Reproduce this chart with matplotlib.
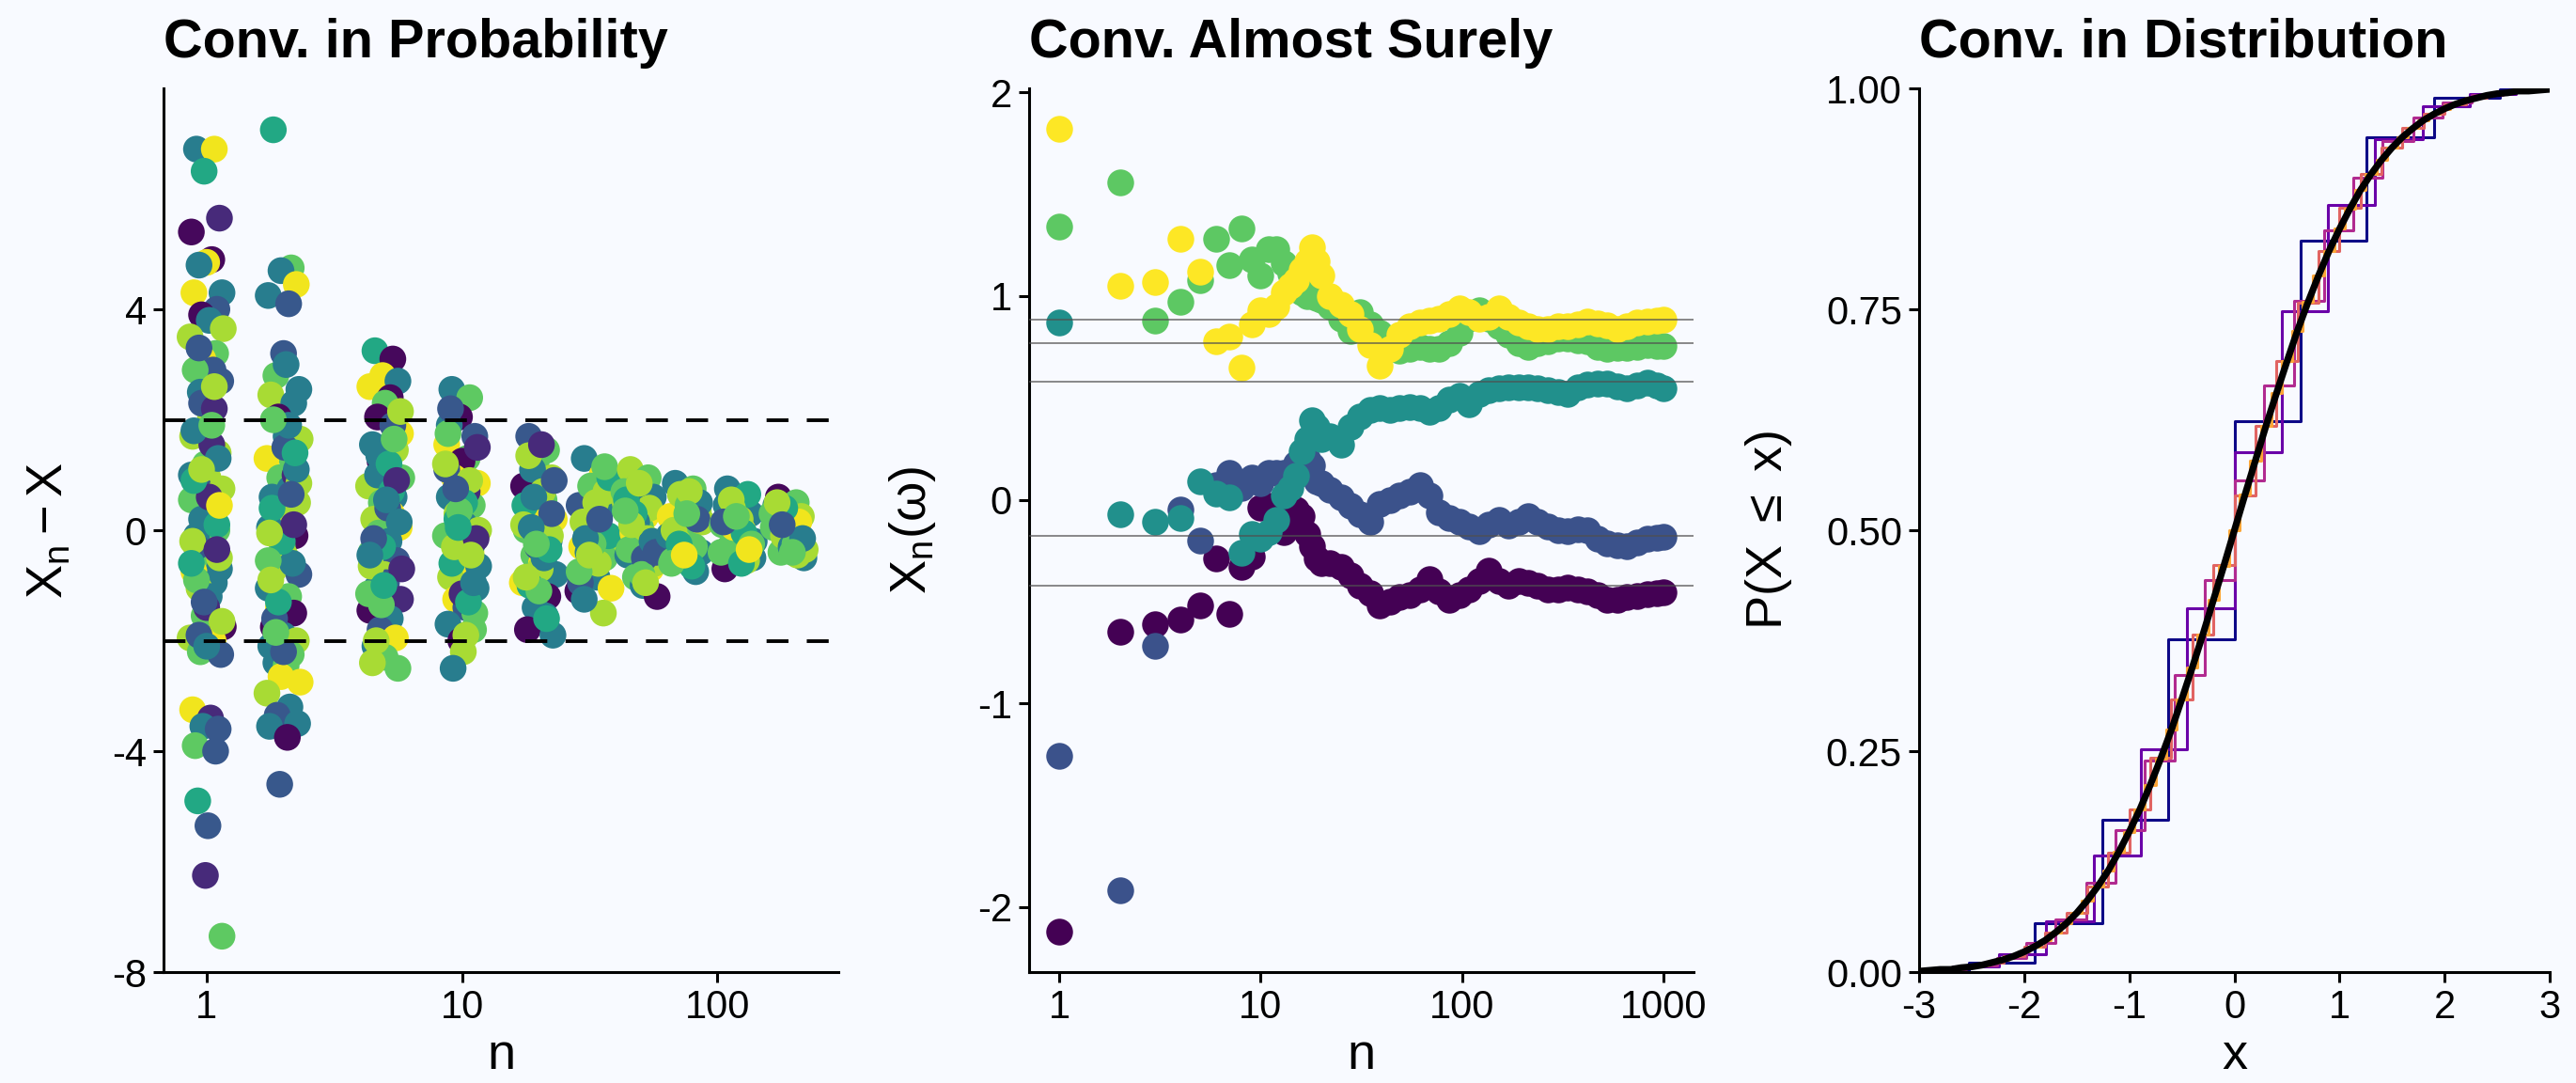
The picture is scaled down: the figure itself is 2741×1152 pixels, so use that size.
import matplotlib
matplotlib.use('Agg')
import matplotlib.pyplot as plt
from matplotlib.ticker import NullLocator

BG = '#f8faff'

# ---- panel 1: convergence in probability, X_n - X at a few n (jittered)
P1_N = [1, 2, 5, 10, 20, 33, 50, 75, 120, 190]
Y_N1 = [6.9, 6.9, 6.5, 5.65, 5.4, 4.9, 4.85, 4.8, 4.3, 4.3, 4.0, 3.9, 3.8, 3.65, 3.5,
        3.2, 3.1, 2.9, 2.9, 2.7, 2.5, 2.05, 1.7, 1.4, 1.2, 0.95, 0.8, 0.75, 0.55, 0.35,
        0.2, 0.0, -0.1, -0.45, -0.7, -0.75, -0.95, -1.05, -1.2, -1.55, -1.75, -1.95, -2.0,
        -2.2, -2.25, -3.25, -3.4, -3.55, -3.6, -3.9, -4.0, -4.9, -5.35, -6.25, -7.35,
        1.0, 1.55, 2.3, 0.1, -0.3, -1.4, -0.5, 1.8, 2.2, -1.9,
        0.6, -0.2, 1.3, -0.9, 2.6, -1.3, 0.45, -0.6, 1.9, -2.1, 3.3, -1.65, 0.9, -0.35, 1.1]
C_N1 = ("TYEQP PYTTY BPTLL GYBGB TLLLG LBLGP TGTGT YTLTG PLYGB YQTBG BEBQG TQBEB QLTQB"
        " QLTGL BYEGT BLEQL")
Y_N2 = [7.25, 4.75, 4.7, 4.45, 4.25, 4.1, 3.2, 2.8, 2.55, 2.45, 2.3, 2.05, 1.7, 1.65, 1.3,
        1.25, 0.95, 0.75, 0.6, 0.5, 0.3, 0.2, 0.05, -0.1, -0.3, -0.45, -0.7, -0.8, -1.05,
        -1.2, -1.4, -1.5, -1.75, -1.9, -2.0, -2.1, -2.25, -2.4, -2.45, -2.65, -2.75, -2.95,
        -3.2, -3.35, -3.5, -3.55, -3.75, -4.6, 1.0, 0.4, -0.6, -1.6, 1.5, -0.2,
        0.85, -0.55, 1.9, -1.3, 0.1, 2.0, -2.2, 1.1, -0.9, 0.65, -1.85, 3.0, -0.05, 1.4]
C_N2 = "EGTYT BBGTL TPTLY GGTTL BLTPG LLBTG YPPTL TGTGY YLTBT TPBQE TBBE LGTEQ GBTLB GTLE"
Y_N5 = [3.25, 3.1, 2.8, 2.7, 2.6, 2.4, 2.3, 2.05, 1.75, 1.55, 1.45, 1.25, 1.1, 0.95, 0.8,
        0.6, 0.5, 0.3, 0.2, 0.05, -0.05, -0.2, -0.4, -0.55, -0.8, -0.95, -1.05, -1.25,
        -1.45, -1.6, -1.8, -1.95, -2.1, -2.3, -2.5, -2.4, 1.9, 1.0, 0.4, -0.3, -0.7,
        -1.15, 0.7, 1.35,
        0.15, -0.65, 1.2, -1.35, 0.9, -0.15, 1.65, -2.0, 0.55, -1.0, 2.15, -0.45]
C_N5 = "EPYTY PGPYT LPGGL TGYLY GTGBL BTQPT BYTGG LBTBE QGET TLEGQ BGLTE LT"
Y_N10 = [2.55, 2.4, 2.05, 1.7, 1.55, 1.3, 1.25, 0.95, 0.85, 0.6, 0.45, 0.3, 0.1, 0.0, -0.1,
         -0.4, -0.5, -0.75, -0.85, -1.05, -1.25, -1.4, -1.7, -1.8, -2.0, -2.2, -2.5, 1.5,
         1.1, 0.7, 0.2, -0.25, -0.6, -1.15, -1.5, 1.9, 0.9, -0.3, 0.5,
         0.35, -0.65, 1.2, -1.3, 0.75, -0.15, 1.75, -1.9, 0.05, -0.95, 2.2, -0.45]
C_N10 = "TGPBY GPYYT GLTLG YBYLT YBTGP LTQBQ ETEQG TLLE GTLEB QGLET BL"
Y_N20 = [1.7, 1.45, 1.25, 0.95, 0.8, 0.55, 0.35, 0.25, 0.2, 0.0, -0.2, -0.45, -0.6, -0.8,
         -0.95, -1.2, -1.4, -1.55, -1.8, -1.9, 1.1, 0.7, 0.45, -0.1, -0.3, -0.7, -1.0, 0.9,
         0.1, -0.5,
         0.6, -0.35, 1.35, -1.1, 0.3, -0.85, -1.6, 0.05, 1.55, -0.25]
C_N20 = "BGGLP GTYYG TGYTY PTTPT TLELB LEBLT TELGB LETQG"
Y_N33 = [1.3, 1.0, 0.6, 0.55, 0.45, 0.25, 0.05, -0.05, -0.2, -0.3, -0.5, -0.7, -0.85, -1.05,
         -1.1, -1.5, 0.8, 0.35, 0.15, -0.1, -0.4, -0.6, -0.95, 0.7, -0.25,
         0.5, -0.15, 0.95, -0.75, 0.2, -0.45, 1.15, -1.25]
C_N33 = "TYYGB LGTLY GLTYP LGTLE TLBLG LTEGB LGT"
Y_N50 = [1.1, 0.95, 0.8, 0.6, 0.5, 0.25, 0.05, -0.05, -0.25, -0.45, -0.7, -0.85, -1.0, -1.2,
         0.7, 0.4, 0.15, -0.15, -0.35, -0.6, 0.3, -0.5,
         0.55, -0.2, 0.85, -0.8, 0.1, -0.4, 0.35, -0.95]
C_N50 = "LGBTL YGYGT YGTPG LTLGL EB ETLGL BGL"
Y_N75 = [0.85, 0.75, 0.55, 0.35, 0.25, 0.05, -0.05, -0.2, -0.4, -0.55, -0.75, 0.65, 0.45,
         0.15, -0.1, -0.3, -0.5, -0.65, 0.0,
         0.5, -0.25, 0.7, -0.6, 0.2, -0.45, 0.3]
C_N75 = "TGTLY YGLTG TLGLT GLEL TELGB YG"
Y_N120 = [0.75, 0.6, 0.5, 0.3, 0.1, 0.0, -0.1, -0.3, -0.5, -0.7, 0.65, 0.4, 0.2, -0.2, -0.4,
          -0.55, 0.05, -0.05,
          0.45, -0.25, 0.55, -0.6, 0.15, -0.35, 0.25]
C_N120 = "TGLTG YLGTP ELLTG LYE TGLEB YG"
Y_N190 = [0.6, 0.5, 0.35, 0.25, 0.05, -0.05, -0.2, -0.4, -0.5, 0.45, 0.15, -0.1, -0.3,
          -0.35, 0.3, -0.45,
          0.4, -0.25, 0.5, -0.15, 0.1, -0.4]
C_N190 = "PGLLG YLGTT YLTLGL EGLTBG"

# horizontal spread of each column (log10 units)
JITTER = [-0.04, 0.03, -0.01, 0.05, -0.06, 0.02, 0.00, -0.03, 0.06, -0.05, 0.04, -0.02,
          0.01, 0.065, -0.065, 0.035, -0.015, 0.025, -0.045, 0.055, -0.025, 0.015, -0.055,
          0.045, -0.005, 0.005, -0.035, 0.06, -0.06, 0.02, -0.02, 0.04, -0.04, 0.0, 0.05,
          -0.05, 0.03, -0.03, 0.01, -0.01, 0.065, -0.065, 0.025, -0.025, 0.055, -0.055,
          0.015, -0.015, 0.045, -0.045, 0.035, -0.035, 0.005, -0.005, 0.06, -0.06, 0.02,
          -0.02, 0.04, -0.04, 0.0, 0.05, -0.05, 0.03, -0.03, 0.01, -0.055, 0.045]
# viridis shade per letter
SHADE = {'P': 0.02, 'Q': 0.12, 'B': 0.27, 'T': 0.42, 'E': 0.6, 'G': 0.75, 'L': 0.87, 'Y': 0.98}

# ---- panel 2: almost sure convergence, running paths
N_GRID = [1, 2, 3, 4, 5, 6, 7, 8, 9, 10, 11, 12, 13, 14, 15, 16, 17, 18, 19, 20,
          22, 25, 28, 31, 35, 39, 44, 49, 55, 62, 69, 77, 86, 97, 108, 121, 136, 152, 170,
          190, 213, 238, 267, 299, 335, 375, 420, 470, 527, 590, 660, 740, 830, 930, 1000]
PATH_PURPLE = [-2.12, -0.65, -0.61, -0.59, -0.52, -0.29, -0.56, -0.33, -0.28, -0.04, -0.03,
               -0.10, -0.16, -0.07, -0.05, -0.08, -0.17, -0.23, -0.29, -0.31,
               -0.31, -0.33, -0.37, -0.42, -0.46, -0.52, -0.50, -0.48, -0.47, -0.44,
               -0.39, -0.45, -0.49, -0.47, -0.44, -0.40, -0.35, -0.40, -0.42, -0.40,
               -0.41, -0.42, -0.44, -0.44, -0.43, -0.44, -0.45, -0.47, -0.49, -0.49,
               -0.48, -0.475, -0.465, -0.46, -0.455]
PATH_BLUE = [-1.26, -1.92, -0.72, -0.05, -0.20, 0.07, 0.13, 0.06, 0.11, 0.08, 0.13, 0.13,
             0.13, 0.10, 0.18, 0.21, 0.20, 0.17, 0.09, 0.08,
             0.05, 0.01, -0.03, -0.07, -0.11, -0.02, 0.00, 0.02, 0.04, 0.07,
             0.02, -0.06, -0.09, -0.11, -0.13, -0.155, -0.12, -0.10, -0.125, -0.11,
             -0.08, -0.11, -0.13, -0.15, -0.155, -0.145, -0.15, -0.19, -0.215, -0.225,
             -0.23, -0.21, -0.19, -0.185, -0.18]
PATH_TEAL = [0.87, -0.07, -0.11, -0.09, 0.09, 0.03, 0.01, -0.26, -0.17, -0.19, -0.16, -0.10,
             0.02, 0.06, 0.12, 0.24, 0.30, 0.39, 0.36, 0.30,
             0.31, 0.27, 0.36, 0.41, 0.44, 0.45, 0.44, 0.45, 0.455, 0.45,
             0.43, 0.45, 0.49, 0.51, 0.47, 0.52, 0.54, 0.545, 0.55, 0.55,
             0.55, 0.545, 0.54, 0.53, 0.52, 0.55, 0.565, 0.57, 0.57, 0.555,
             0.545, 0.56, 0.575, 0.56, 0.545]
PATH_GREEN = [1.34, 1.56, 0.88, 0.97, 1.08, 1.28, 1.15, 1.33, 1.18, 1.10, 1.23, 1.23, 1.16,
              1.11, 1.07, 1.02, 1.00, 1.01, 0.99, 0.98,
              0.95, 0.89, 0.83, 0.92, 0.86, 0.82, 0.77, 0.73, 0.74, 0.75,
              0.74, 0.74, 0.77, 0.82, 0.89, 0.93, 0.89, 0.85, 0.81, 0.77,
              0.75, 0.77, 0.78, 0.79, 0.79, 0.785, 0.78, 0.75, 0.74, 0.745,
              0.745, 0.75, 0.76, 0.755, 0.754]
PATH_YELLOW = [1.82, 1.05, 1.07, 1.28, 1.12, 0.78, 0.80, 0.65, 0.86, 0.93, 0.91, 0.95, 1.02,
               1.05, 1.08, 1.13, 1.17, 1.24, 1.17, 1.10,
               1.00, 0.96, 0.91, 0.84, 0.76, 0.66, 0.74, 0.81, 0.85, 0.87,
               0.88, 0.89, 0.91, 0.94, 0.92, 0.89, 0.90, 0.94, 0.90, 0.87,
               0.85, 0.84, 0.84, 0.85, 0.85, 0.86, 0.875, 0.865, 0.855, 0.84,
               0.85, 0.87, 0.875, 0.88, 0.885]
LIMITS = [0.884, 0.769, 0.58, -0.179, -0.42]
PATH_COLORS = ['#440154', '#3b528b', '#21908c', '#5dc863', '#fde725']

# ---- panel 3: convergence in distribution, step CDFs
X_N10 = [-3.16, -2.53, -1.90, -1.26, -0.63, 0.0, 0.63, 1.26, 1.90, 2.53, 3.16]
F_N10 = [0.001, 0.011, 0.055, 0.172, 0.377, 0.623, 0.828, 0.945, 0.989, 0.999, 1.0]
X_N20 = [-3.13, -2.68, -2.24, -1.79, -1.34, -0.89, -0.45, 0.0, 0.45, 0.89, 1.34, 1.79,
         2.24, 2.68, 3.13]
F_N20 = [0.0013, 0.0059, 0.0207, 0.0577, 0.1316, 0.2517, 0.4119, 0.5881, 0.7483, 0.8684,
         0.9423, 0.9793, 0.9941, 0.9987, 0.9998]
X_N50 = [-3.11, -2.83, -2.55, -2.26, -1.98, -1.70, -1.41, -1.13, -0.85, -0.57, -0.28, 0.0,
         0.28, 0.57, 0.85, 1.13, 1.41, 1.70, 1.98, 2.26, 2.55, 2.83, 3.11]
F_N50 = [0.0013, 0.0033, 0.0077, 0.0164, 0.0325, 0.0595, 0.1013, 0.1611, 0.2399, 0.3359,
         0.4439, 0.5561, 0.6641, 0.7601, 0.8389, 0.8987, 0.9405, 0.9675, 0.9836, 0.9923,
         0.9967, 0.9987, 0.9995]
X_N100 = [-3.0, -2.8, -2.6, -2.4, -2.2, -2.0, -1.8, -1.6, -1.4, -1.2, -1.0, -0.8, -0.6, -0.4,
          -0.2, 0.0, 0.2, 0.4, 0.6, 0.8, 1.0, 1.2, 1.4, 1.6, 1.8, 2.0, 2.2, 2.4, 2.6, 2.8, 3.0]
F_N100 = [0.0018, 0.0033, 0.0060, 0.0105, 0.0176, 0.0284, 0.0443, 0.0666, 0.0967, 0.1356,
          0.1841, 0.2421, 0.3086, 0.3822, 0.4602, 0.5398, 0.6178, 0.6914, 0.7579, 0.8159,
          0.8644, 0.9033, 0.9334, 0.9557, 0.9716, 0.9824, 0.9895, 0.9940, 0.9967, 0.9982,
          0.9991]
CDF_X = [-3.0, -2.9, -2.8, -2.7, -2.6, -2.5, -2.4, -2.3, -2.2, -2.1, -2.0, -1.9, -1.8, -1.7,
         -1.6, -1.5, -1.4, -1.3, -1.2, -1.1, -1.0, -0.9, -0.8, -0.7, -0.6, -0.5, -0.4, -0.3,
         -0.2, -0.1, 0.0, 0.1, 0.2, 0.3, 0.4, 0.5, 0.6, 0.7, 0.8, 0.9, 1.0, 1.1, 1.2, 1.3,
         1.4, 1.5, 1.6, 1.7, 1.8, 1.9, 2.0, 2.1, 2.2, 2.3, 2.4, 2.5, 2.6, 2.7, 2.8, 2.9, 3.0]
CDF_Y = [0.001, 0.002, 0.003, 0.003, 0.005, 0.006, 0.008, 0.011, 0.014, 0.018, 0.023, 0.029,
         0.036, 0.045, 0.055, 0.067, 0.081, 0.097, 0.115, 0.136, 0.159, 0.184, 0.212, 0.242,
         0.274, 0.309, 0.345, 0.382, 0.421, 0.460, 0.500, 0.540, 0.579, 0.618, 0.655, 0.691,
         0.726, 0.758, 0.788, 0.816, 0.841, 0.864, 0.885, 0.903, 0.919, 0.933, 0.945, 0.955,
         0.964, 0.971, 0.977, 0.982, 0.986, 0.989, 0.992, 0.994, 0.995, 0.997, 0.997, 0.998,
         0.999]
STEP_COLORS = ['#0d0887', '#6a00a8', '#b12a90', '#e16462', '#fca636']


plt.rcParams['font.family'] = ['Liberation Sans', 'DejaVu Sans']
plt.rcParams['mathtext.fontset'] = 'custom'
plt.rcParams['mathtext.rm'] = 'Liberation Sans'
plt.rcParams['mathtext.it'] = 'Liberation Sans:italic'
plt.rcParams['axes.unicode_minus'] = False

fig = plt.figure(figsize=(27.41, 11.52), dpi=100, facecolor=BG)
ax1 = fig.add_axes([0.0635, 0.1024, 0.262, 0.816])
ax2 = fig.add_axes([0.3995, 0.1024, 0.258, 0.816])
ax3 = fig.add_axes([0.745, 0.1024, 0.2448, 0.816])

for ax in (ax1, ax2, ax3):
    ax.set_facecolor(BG)
    ax.spines['top'].set_visible(False)
    ax.spines['right'].set_visible(False)
    for s in ('left', 'bottom'):
        ax.spines[s].set_linewidth(2.2)
    ax.tick_params(width=2.2, length=8, labelsize=30, pad=5, color='black')


def titles(ax, title, xlab, ylab, ylab_x):
    ax.set_title(title, loc='left', fontsize=41.5, fontweight='bold', pad=24)
    ax.set_xlabel(xlab, fontsize=39, labelpad=4)
    ax.set_ylabel(ylab, fontsize=39)
    ax.yaxis.set_label_coords(ylab_x, 0.5)


# panel 1
groups = [(Y_N1, C_N1), (Y_N2, C_N2), (Y_N5, C_N5), (Y_N10, C_N10), (Y_N20, C_N20),
          (Y_N33, C_N33), (Y_N50, C_N50), (Y_N75, C_N75), (Y_N120, C_N120), (Y_N190, C_N190)]
cmap = plt.get_cmap('viridis')
for n, (ys, cs) in zip(P1_N, groups):
    cs = ''.join(cs.split())
    xs = [n * 10 ** JITTER[i % len(JITTER)] for i in range(len(ys))]
    cols = [cmap(SHADE[c]) for c in cs]
    ax1.scatter(xs, ys, s=420, c=cols, linewidths=0, zorder=2)
ax1.axhline(2, color='black', lw=2.8, ls=(0, (6, 5)), zorder=3)
ax1.axhline(-2, color='black', lw=2.8, ls=(0, (6, 5)), zorder=3)
ax1.set_xscale('log')
ax1.set_xlim(0.678, 298)
ax1.set_ylim(-8, 8)
ax1.set_xticks([1, 10, 100])
ax1.set_xticklabels(['1', '10', '100'])
ax1.xaxis.set_minor_locator(NullLocator())
ax1.set_yticks([-8, -4, 0, 4])
ax1.set_yticklabels(['-8', '-4', '0', '4'])
titles(ax1, 'Conv. in Probability', 'n', r'$\mathrm{X_n - X}$', -0.135)

# panel 2
for path, col in zip([PATH_PURPLE, PATH_BLUE, PATH_TEAL, PATH_GREEN, PATH_YELLOW], PATH_COLORS):
    ax2.scatter(N_GRID, path, s=420, color=col, linewidths=0, zorder=2)
for lim in LIMITS:
    ax2.axhline(lim, color='#505050', lw=1.1, alpha=0.85, zorder=3)
ax2.set_xscale('log')
ax2.set_xlim(10 ** -0.15, 10 ** 3.15)
ax2.set_ylim(-2.32, 2.02)
ax2.set_xticks([1, 10, 100, 1000])
ax2.set_xticklabels(['1', '10', '100', '1000'])
ax2.xaxis.set_minor_locator(NullLocator())
ax2.set_yticks([-2, -1, 0, 1, 2])
ax2.set_yticklabels(['-2', '-1', '0', '1', '2'])
titles(ax2, 'Conv. Almost Surely', 'n', r'$\mathrm{X_n(\omega)}$', -0.137)

# panel 3
for (xs, fs), col in zip([(X_N10, F_N10), (X_N20, F_N20), (X_N50, F_N50), (X_N100, F_N100)],
                         STEP_COLORS[:4]):
    ax3.step(xs, fs, where='post', color=col, lw=2.2, zorder=2)
ax3.step(CDF_X, CDF_Y, where='mid', color=STEP_COLORS[4], lw=2.2, zorder=2)
ax3.plot(CDF_X, CDF_Y, color='black', lw=5.2, zorder=3, solid_capstyle='round')
ax3.set_xlim(-3, 3)
ax3.set_ylim(0, 1)
ax3.set_xticks([-3, -2, -1, 0, 1, 2, 3])
ax3.set_xticklabels(['-3', '-2', '-1', '0', '1', '2', '3'])
ax3.set_yticks([0, 0.25, 0.5, 0.75, 1])
ax3.set_yticklabels(['0.00', '0.25', '0.50', '0.75', '1.00'])
titles(ax3, 'Conv. in Distribution', 'x', r'$\mathrm{P(X\ \leq\ x)}$', -0.198)

fig.savefig('out.png', dpi=100, facecolor=BG)
